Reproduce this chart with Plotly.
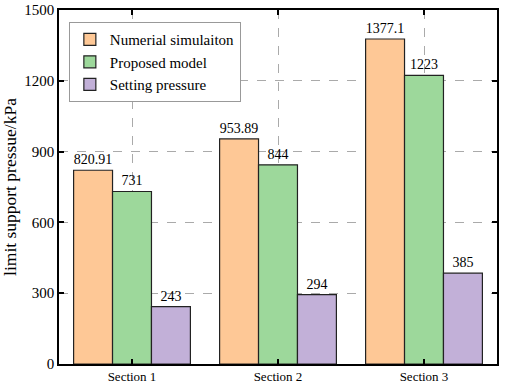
import plotly.graph_objects as go

categories = ["Section 1", "Section 2", "Section 3"]
numerical = [820.91, 953.89, 1377.1]
proposed = [731, 844, 1223]
setting = [243, 294, 385]
numerical_labels = ["820.91", "953.89", "1377.1"]
proposed_labels = ["731", "844", "1223"]
setting_labels = ["243", "294", "385"]
y_ticks = [0, 300, 600, 900, 1200, 1500]

font_family = "Liberation Serif, Times New Roman, serif"

fig = go.Figure()
series = [
    ("Numerial simulaiton", numerical, numerical_labels, "#FEC896"),
    ("Proposed model", proposed, proposed_labels, "#9DD89B"),
    ("Setting pressure", setting, setting_labels, "#C2B0D8"),
]
for name, vals, labels, color in series:
    fig.add_trace(go.Bar(
        x=categories, y=vals, name=name, text=labels,
        textposition="outside", cliponaxis=False,
        textfont=dict(family=font_family, size=14, color="black"),
        marker=dict(color=color, line=dict(color="#222222", width=1.2)),
    ))

fig.update_layout(
    width=505, height=383,
    margin=dict(l=59, r=8, t=10, b=19),
    paper_bgcolor="white", plot_bgcolor="white",
    barmode="group", bargap=0.2, bargroupgap=0,
    font=dict(family=font_family, size=14, color="black"),
    showlegend=True,
    legend=dict(
        x=0.0225, y=0.966, xanchor="left", yanchor="top",
        bgcolor="white", bordercolor="#999999", borderwidth=1,
        font=dict(family=font_family, size=15),
        tracegroupgap=0, itemwidth=30,
    ),
)
fig.update_xaxes(
    type="category", range=[-0.5, 2.5], automargin=False,
    showline=True, linecolor="black", linewidth=1.5, mirror="ticks",
    ticks="inside", ticklen=5, tickwidth=1.5, tickcolor="black",
    showgrid=True, gridcolor="#AAAAAA", griddash="dash", gridwidth=1,
    tickfont=dict(family=font_family, size=13),
)
fig.update_yaxes(
    range=[0, 1500], tickvals=y_ticks, automargin=False,
    showline=True, linecolor="black", linewidth=1.5, mirror="ticks",
    ticks="inside", ticklen=5, tickwidth=1.5, tickcolor="black",
    showgrid=True, gridcolor="#AAAAAA", griddash="dash", gridwidth=1,
    zeroline=False, ticklabeloverflow="allow",
    tickfont=dict(family=font_family, size=15),
    title=dict(text="limit support pressue/kPa", font=dict(family=font_family, size=17.5), standoff=6),
)

fig.write_html(
    "out.html",
    config={"displayModeBar": False},
    post_script="document.body.style.margin='0';document.body.style.padding='0';document.body.style.overflow='hidden';",
)
